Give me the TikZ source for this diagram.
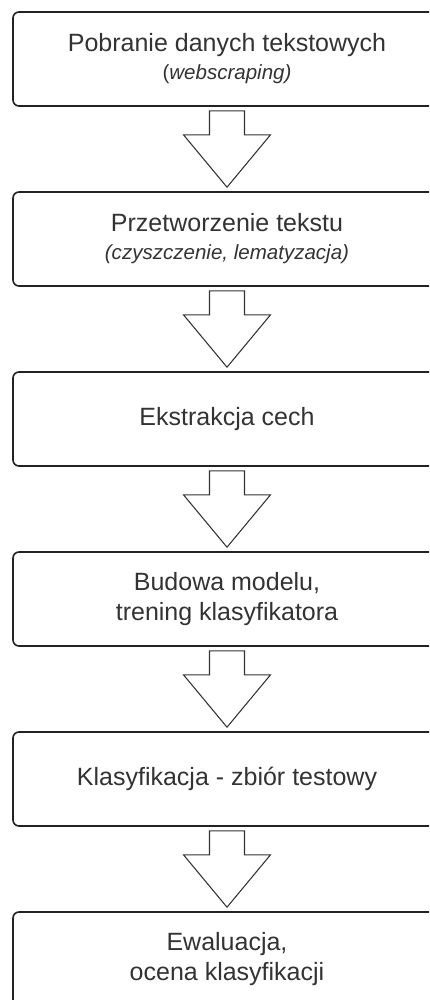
\documentclass[tikz,border=0pt]{standalone}
\usepackage{fontspec}
\setmainfont{Liberation Sans}
\usetikzlibrary{calc}
\definecolor{ink}{HTML}{333333}
\definecolor{edge}{HTML}{222222}
\tikzset{
  stepbox/.style={draw=edge, line width=1.2pt, rounded corners=4.5pt, fill=white,
    minimum width=321pt, minimum height=70.5pt, inner sep=0pt, align=center,
    text=ink, font=\fontsize{18.75pt}{21pt}\selectfont},
  barrow/.style={draw=ink, line width=0.8pt, fill=white, line join=miter},
}
\newcommand\subline[1]{{\fontsize{15.4pt}{21pt}\selectfont #1}}
\newcommand\blockarr[2]{%
  \draw[barrow] ($(#1.south)+(-17.5,4)$) -- ($(#1.south)+(17.5,4)$)
    -- ($(#1.south)+(17.5,28)$) -- ($(#1.south)+(43.5,28)$)
    -- ($(#2.north)+(0,-4)$)
    -- ($(#1.south)+(-43.5,28)$) -- ($(#1.south)+(-17.5,28)$) -- cycle;}
\begin{document}
\begin{tikzpicture}[x=0.75pt, y=-0.75pt]
\useasboundingbox (0,0) rectangle (429,1000);
\clip (0,0) rectangle (429,1000);
\node[stepbox] (b1) at (227,59) {Pobranie danych tekstowych\\\subline{(\textit{webscraping)}}};
\node[stepbox] (b2) at (227,239) {Przetworzenie tekstu\\\subline{\textit{(czyszczenie, lematyzacja)}}};
\node[stepbox] (b3) at (227,419) {Ekstrakcja cech};
\node[stepbox] (b4) at (227,599) {Budowa modelu,\\[1.5pt] trening klasyfikatora};
\node[stepbox] (b5) at (227,779) {Klasyfikacja - zbiór testowy};
\node[stepbox] (b6) at (227,959) {Ewaluacja,\\[1.5pt] ocena klasyfikacji};
\blockarr{b1}{b2}
\blockarr{b2}{b3}
\blockarr{b3}{b4}
\blockarr{b4}{b5}
\blockarr{b5}{b6}
\end{tikzpicture}
\end{document}
